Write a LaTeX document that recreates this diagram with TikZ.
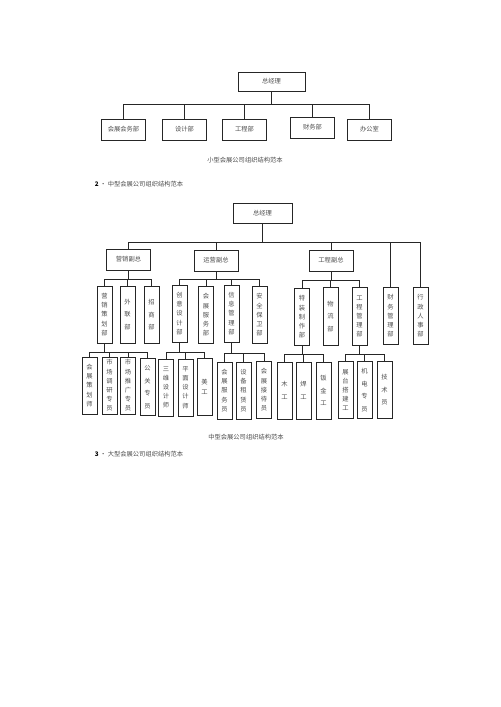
\documentclass[tikz,border=0pt]{standalone}
\usepackage{fontspec}
\setmainfont{Noto Sans CJK SC}
\usepackage{tikz}
\usetikzlibrary{positioning,calc}

\begin{document}
\begin{tikzpicture}[
        x=0.042cm,
        y=-0.042cm,
        box/.style={
            rectangle,
            draw=black!85,
            line width=0.6pt,
            inner sep=0pt,
            text=black!70,
            font=\fontsize{7.5}{9}\selectfont
        },
        topbox/.style={box, minimum width=2.8cm, minimum height=0.8cm},
        hbox/.style={box, minimum width=1.85cm, minimum height=0.88cm},
        vbox/.style={
            box,
            align=center,
            minimum width=0.63cm,
            minimum height=2.4cm,
            font=\fontsize{7.5}{11}\selectfont
        },
        vboxs/.style={vbox, font=\fontsize{7.5}{15}\selectfont},
        heavy/.style={line width=1.1pt},
        line/.style={draw=black!85, line width=0.6pt},
        caption/.style={text=black!70, font=\fontsize{7.5}{9}\selectfont}
    ]
    \useasboundingbox (0,0) rectangle (500,707);

    % SMALL COMPANY
    \node[topbox] (zjlA) at (271.5,81.5) {总经理};
    \node[hbox] (a1) at (123.5,129.5) {会展会务部};
    \node[hbox] (a2) at (184.5,129.5) {设计部};
    \node[hbox] (a3) at (244.5,129.5) {工程部};
    \node[hbox] (a4) at (312.5,127.5) {财务部};
    \node[hbox] (a5) at (369.5,129.5) {办公室};
    \node[caption] (capA) at (245,160) {小型会展公司组织结构范本};

    \coordinate (jA) at (271.5,104);
    \draw[line] (zjlA) -- (jA);
    \foreach \c in {a1,a2,a3,a4,a5}
        \draw[line] (jA) -| (\c);

    % MEDIUM COMPANY
    \node[anchor=west, font=\fontsize{7.5}{9}\selectfont] (titleB) at (92,184)
        {\textbf{2}\ \textcolor{black!70}{·\ 中型会展公司组织结构范本}};

    \node[topbox, minimum width=2.48cm, minimum height=0.84cm] (zjlB) at (262.5,213) {总经理};

    % vice presidents and single departments
    \node[hbox] (yx) at (128.5,259.5) {营销副总};
    \node[hbox] (yy) at (216,260.5) {运营副总};
    \node[hbox] (gc) at (331,260.5) {工程副总};
    \node[vbox] (cwgl) at (390.5,316) {财\\务\\管\\理\\部};
    \node[vbox, heavy] (xzrs) at (420.5,316) {行\\政\\人\\事\\部};

    % departments
    \node[vbox] (yxch) at (104.5,314.5) {营\\销\\策\\划\\部};
    \node[vboxs] (wl) at (127.5,314.5) {外\\联\\部};
    \node[vboxs] (zs) at (151.5,315) {招\\商\\部};
    \node[vbox] (cysj) at (179.5,313.5) {创\\意\\设\\计\\部};
    \node[vbox] (zffw) at (206,315) {会\\展\\服\\务\\部};
    \node[vbox] (xxgl) at (231.5,313.5) {信\\息\\管\\理\\部};
    \node[vbox] (aqbw) at (259.5,315) {安\\全\\保\\卫\\部};
    \node[vbox] (tzzz) at (302,317) {特\\装\\制\\作\\部};
    \node[vboxs, heavy] (wls) at (330.5,316.5) {物\\流\\部};
    \node[vbox, heavy] (gcgl) at (359.5,316.5) {工\\程\\管\\理\\部};

    % staff
    \node[vbox] (hzchs) at (89.5,385.5) {会\\展\\策\\划\\师};
    \node[vbox] (scdy) at (109.5,385.5) {市\\场\\调\\研\\专\\员};
    \node[vbox] (sctg) at (128,385.5) {市\\场\\推\\广\\专\\员};
    \node[vboxs] (ggzy) at (147.5,387) {公\\关\\专\\员};
    \node[vbox] (swsj) at (166,387.5) {三\\维\\设\\计\\师};
    \node[vbox] (pmsj) at (185.5,387.5) {平\\面\\设\\计\\师};
    \node[vbox, font=\fontsize{7.5}{12}\selectfont] (mg) at (204.5,387) {美\\工};
    \node[vbox] (zhfwy) at (224.5,390.5) {会\\展\\服\\务\\员};
    \node[vbox] (sbzl) at (243.5,390.5) {设\\备\\租\\赁\\员};
    \node[vbox] (zhjd) at (264,390) {会\\展\\接\\待\\员};
    \node[vboxs] (mugong) at (284.5,390.5) {木\\工};
    \node[vboxs] (hangong) at (303.5,390.5) {焊\\工};
    \node[vboxs] (bjg) at (323.5,390.5) {钣\\金\\工};
    \node[vbox] (ztdj) at (345.5,390) {展\\台\\搭\\建\\工};
    \node[vboxs] (jdzy) at (364.5,390) {机\\电\\专\\员};
    \node[vboxs] (jsy) at (384.5,390) {技\\术\\员};

    \node[caption] (capB) at (246,437) {中型会展公司组织结构范本};

    % LARGE COMPANY (title only)
    \node[anchor=west, font=\fontsize{7.5}{9}\selectfont] (titleC) at (92,454)
        {\textbf{3}\ \textcolor{black!70}{·\ 大型会展公司组织结构范本}};

    % CONNECTIONS: general manager
    \coordinate (jB) at (262.5,242);
    \draw[line] (zjlB) -- (jB);
    \foreach \c in {yx,yy,gc,cwgl,xzrs}
        \draw[line] (jB) -| (\c);

    % CONNECTIONS: vice presidents
    \coordinate (jyx) at ($(yx.south)+(0,9)$);
    \draw[line] (yx) -- (jyx);
    \foreach \c in {yxch,wl,zs}
        \draw[line] (jyx) -| (\c);

    \coordinate (jyy) at ($(yy.south)+(0,8.5)$);
    \draw[line] (yy) -- (jyy);
    \foreach \c in {cysj,zffw,xxgl,aqbw}
        \draw[line] (jyy) -| (\c);

    \coordinate (jgc) at ($(gc.south)+(0,9.5)$);
    \draw[line] (gc) -- (jgc);
    \foreach \c in {tzzz,wls,gcgl}
        \draw[line] (jgc) -| (\c);

    % CONNECTIONS: departments
    \coordinate (jyxch) at ($(yxch.south)+(0,9)$);
    \draw[line] (yxch) -- (jyxch);
    \foreach \c in {hzchs,scdy,sctg,ggzy}
        \draw[line] (jyxch) -| (\c);

    \coordinate (jcysj) at ($(cysj.south)+(0,10)$);
    \draw[line] (cysj) -- (jcysj);
    \foreach \c in {swsj,pmsj,mg}
        \draw[line] (jcysj) -| (\c);

    \coordinate (jxxgl) at ($(xxgl.south)+(0,11)$);
    \draw[line] (xxgl) -- (jxxgl);
    \foreach \c in {zhfwy,sbzl,zhjd}
        \draw[line] (jxxgl) -| (\c);

    \coordinate (jtzzz) at ($(tzzz.south)+(0,8.5)$);
    \draw[line] (tzzz) -- (jtzzz);
    \foreach \c in {mugong,hangong,bjg}
        \draw[line] (jtzzz) -| (\c);

    \coordinate (jgcgl) at ($(gcgl.south)+(0,8.5)$);
    \draw[line] (gcgl) -- (jgcgl);
    \foreach \c in {ztdj,jdzy,jsy}
        \draw[line] (jgcgl) -| (\c);

\end{tikzpicture}
\end{document}
